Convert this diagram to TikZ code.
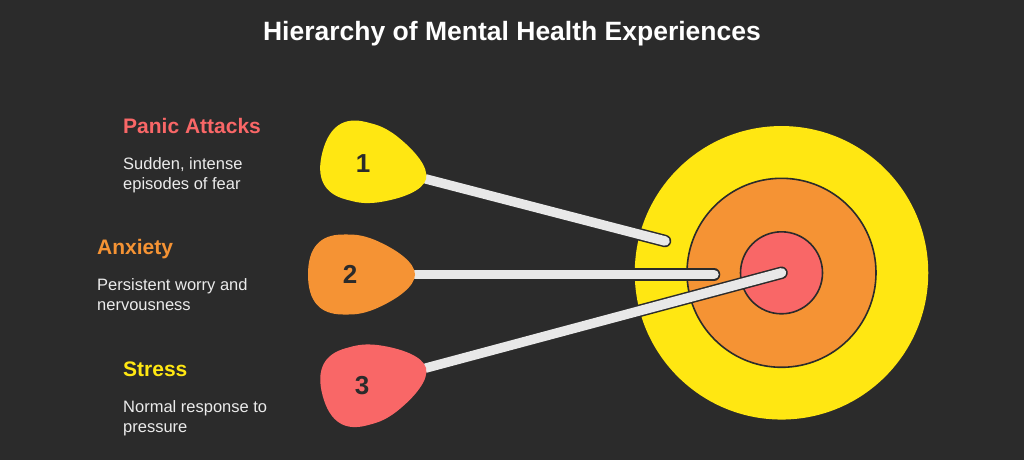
\documentclass[tikz,border=0pt]{standalone}
\usepackage{fontspec}
\setmainfont{Liberation Sans}
\definecolor{bg}{HTML}{2B2B2B}
\definecolor{cyel}{HTML}{FFE712}
\definecolor{corg}{HTML}{F59334}
\definecolor{cred}{HTML}{F96767}
\definecolor{stickc}{HTML}{E8E8E8}
\definecolor{txtc}{HTML}{EBEBEB}
\tikzset{
  pics/pick/.style={code={
    \fill[#1] (0,0) .. controls (0,-12) and (-18,-25) .. (-40,-34.5)
      .. controls (-55,-40.5) and (-62,-40) .. (-72,-40)
      .. controls (-95,-40) and (-107,-27) .. (-107,0)
      .. controls (-107,27) and (-95,40) .. (-72,40)
      .. controls (-62,40) and (-55,40.5) .. (-40,34.5)
      .. controls (-18,25) and (0,12) .. (0,0) -- cycle;
  }},
  stickout/.style={line width=12.5, draw=bg, line cap=round},
  stickin/.style={line width=9.5, draw=stickc, line cap=round},
  ring/.style={circle, draw=bg, line width=1.6, inner sep=0},
  num/.style={font=\bfseries\fontsize{26}{26}\selectfont, text=bg, inner sep=0, text depth=0pt},
  head/.style={font=\bfseries\fontsize{21}{24}\selectfont, anchor=base west, inner sep=0},
  desc/.style={font=\fontsize{16.5}{20}\selectfont, text=txtc, anchor=base west, align=left, inner sep=0},
}
\begin{document}
\begin{tikzpicture}[x=1pt,y=-1pt]
\fill[bg] (0,0) rectangle (1024,460);
\useasboundingbox (0,0) rectangle (1024,460);
\node[font=\bfseries\fontsize{26.5}{30}\selectfont, text=white, inner sep=0, anchor=base] (title) at (512,41) {Hierarchy of Mental Health Experiences};
% target
\node[circle, fill=cyel, minimum size=293.5, inner sep=0] (outer) at (781.5,272.8) {};
\node[ring, fill=corg, minimum size=189] (middle) at (781.5,272.8) {};
\node[ring, fill=cred, minimum size=82] (inner) at (781.5,272.8) {};
% coordinates
\coordinate (t1) at (426,179);
\coordinate (e1) at (665,241);
\coordinate (t2) at (415,274.5);
\coordinate (e2) at (714,274.5);
\coordinate (t3) at (426,368);
\coordinate (e3) at (inner.center);
% sticks
\foreach \a/\b in {t1/e1,t2/e2,t3/e3}{
  \draw[stickout] (\a) -- (\b);
  \draw[stickin] (\a) -- (\b);
}
% picks
\pic[rotate=-14.6] at (t1) {pick=cyel};
\pic at (t2) {pick=corg};
\pic[rotate=15.1] at (t3) {pick=cred};
\node[num] (n1) at (363,163.5) {1};
\node[num] (n2) at (350,274) {2};
\node[num] (n3) at (362,385) {3};
% texts
\node[head, text=cred] (h1) at (123,133) {Panic Attacks};
\node[desc] (d1) at (123,189) {Sudden, intense\\episodes of fear};
\node[head, text=corg] (h2) at (97,254) {Anxiety};
\node[desc] (d2) at (97,310.5) {Persistent worry and\\nervousness};
\node[head, text=cyel] (h3) at (123,376) {Stress};
\node[desc] (d3) at (123,432) {Normal response to\\pressure};
\end{tikzpicture}
\end{document}
